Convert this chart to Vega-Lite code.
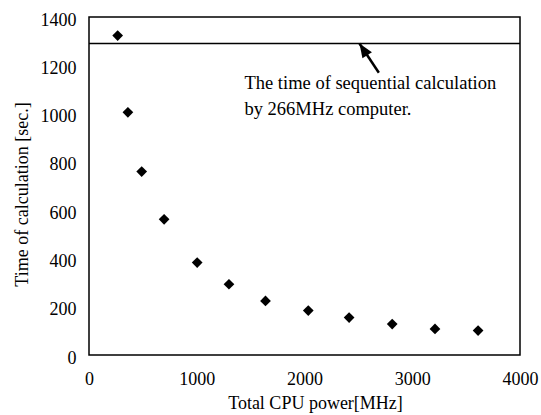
{
  "$schema": "https://vega.github.io/schema/vega-lite/v6.json",
  "width": 431,
  "height": 338,
  "autosize": {"type": "none"},
  "padding": {"left": 89, "top": 17, "right": 21, "bottom": 60},
  "background": "white",
  "config": {
    "view": {"stroke": "black", "strokeWidth": 1.5},
    "font": "Liberation Serif",
    "axis": {
      "domain": false, "ticks": false, "grid": false,
      "labelFont": "Liberation Serif", "labelFontSize": 18, "labelColor": "black",
      "titleFont": "Liberation Serif", "titleFontSize": 18, "titleFontWeight": "normal", "titleColor": "black",
      "labelFlush": false, "labelOverlap": false, "format": "d"
    }
  },
  "datasets": {
    "runs": [
      {"cpu": 266, "time": 1323},
      {"cpu": 361, "time": 1005},
      {"cpu": 489, "time": 760},
      {"cpu": 697, "time": 562},
      {"cpu": 1004, "time": 383},
      {"cpu": 1299, "time": 293},
      {"cpu": 1638, "time": 224},
      {"cpu": 2035, "time": 184},
      {"cpu": 2414, "time": 155},
      {"cpu": 2814, "time": 128},
      {"cpu": 3211, "time": 108},
      {"cpu": 3611, "time": 101}
    ],
    "sequential": [{"time": 1290}],
    "arrow": [{"x": 2690, "y": 1169, "x2": 2510, "y2": 1290}],
    "arrowhead": [{"x": 2546, "y": 1266}],
    "notes": [
      {"x": 1443, "y": 1103, "text": "The time of sequential calculation"},
      {"x": 1443, "y": 995, "text": "by 266MHz computer."}
    ]
  },
  "layer": [
    {
      "data": {"name": "runs"},
      "mark": {"type": "point", "shape": "diamond", "filled": true, "color": "black", "size": 115, "opacity": 1},
      "encoding": {
        "x": {
          "field": "cpu", "type": "quantitative",
          "scale": {"domain": [0, 4000], "nice": false, "zero": true},
          "axis": {
            "values": [0, 1000, 2000, 3000, 4000],
            "format": "d",
            "labelPadding": 15,
            "title": "Total CPU power[MHz]",
            "titleX": 226, "titleY": 53, "titleAlign": "center", "titleBaseline": "alphabetic"
          }
        },
        "y": {
          "field": "time", "type": "quantitative",
          "scale": {"domain": [0, 1400], "nice": false},
          "axis": {
            "values": [0, 200, 400, 600, 800, 1000, 1200, 1400],
            "format": "d",
            "labelPadding": 13,
            "labelOffset": 3,
            "title": "Time of calculation [sec.]",
            "titleX": -67, "titleY": 177, "titleAngle": 270, "titleAlign": "center", "titleBaseline": "middle"
          }
        }
      }
    },
    {
      "data": {"name": "sequential"},
      "mark": {"type": "rule", "color": "black", "strokeWidth": 1.5},
      "encoding": {
        "y": {"field": "time", "type": "quantitative"}
      }
    },
    {
      "data": {"name": "arrow"},
      "mark": {"type": "rule", "color": "black", "strokeWidth": 2.5},
      "encoding": {
        "x": {"field": "x", "type": "quantitative"},
        "y": {"field": "y", "type": "quantitative"},
        "x2": {"field": "x2"},
        "y2": {"field": "y2"}
      }
    },
    {
      "data": {"name": "arrowhead"},
      "mark": {"type": "point", "shape": "M0,-1L-0.8,1L0.8,1Z", "filled": true, "color": "black", "size": 200, "opacity": 1, "angle": 327},
      "encoding": {
        "x": {"field": "x", "type": "quantitative"},
        "y": {"field": "y", "type": "quantitative"}
      }
    },
    {
      "data": {"name": "notes"},
      "mark": {"type": "text", "align": "left", "baseline": "alphabetic", "font": "Liberation Serif", "fontSize": 18.5, "color": "black"},
      "encoding": {
        "x": {"field": "x", "type": "quantitative"},
        "y": {"field": "y", "type": "quantitative"},
        "text": {"field": "text"}
      }
    }
  ]
}
